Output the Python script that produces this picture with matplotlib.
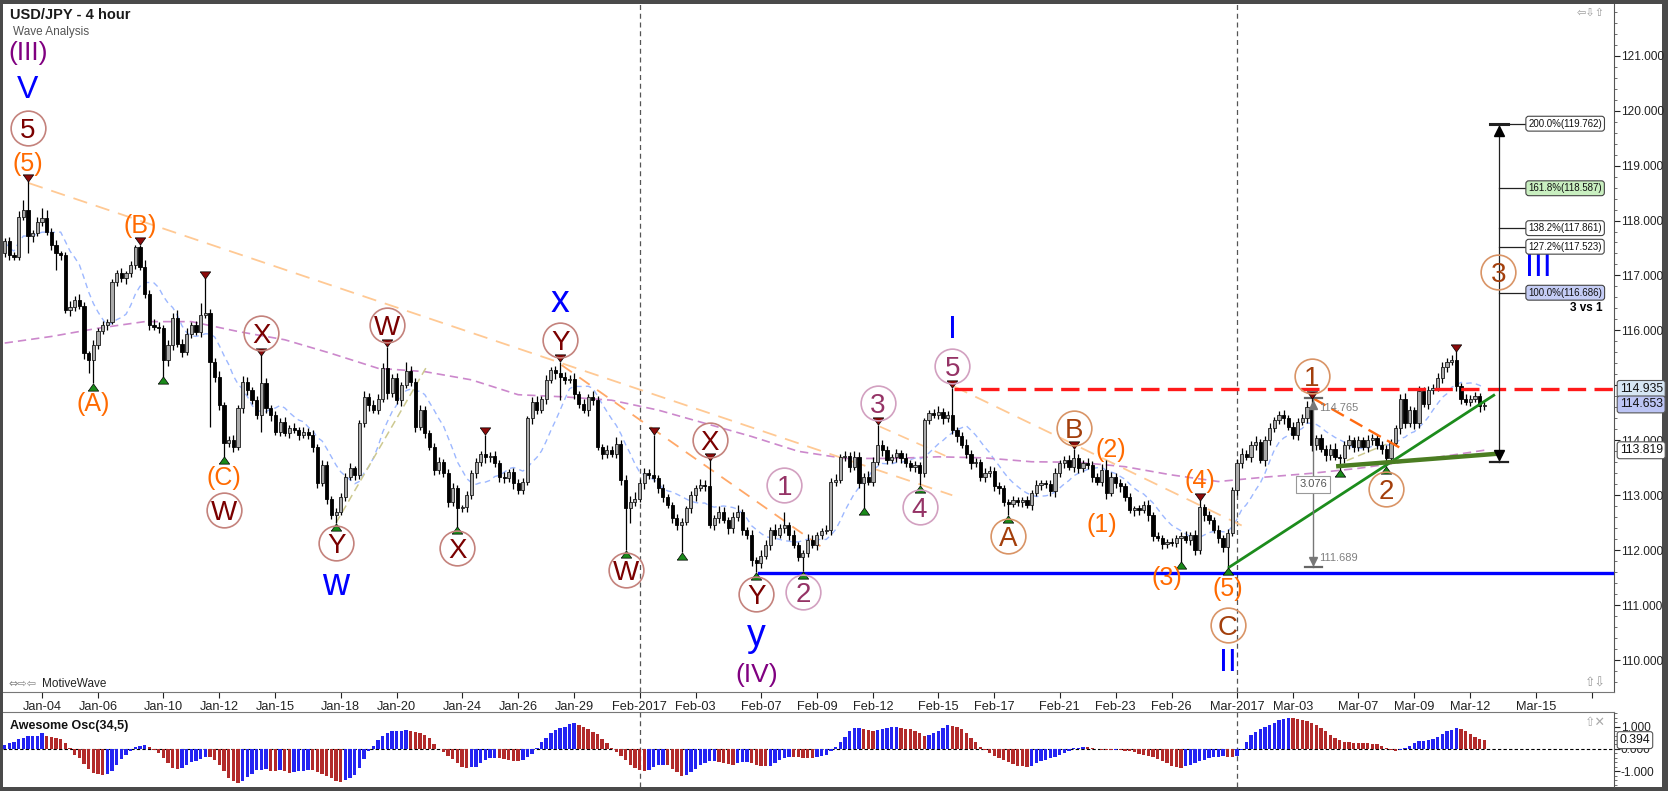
import matplotlib
matplotlib.use("Agg")
import matplotlib.pyplot as plt
import matplotlib.transforms as mtransforms
from matplotlib.path import Path
from matplotlib.patches import Rectangle
import numpy as np
import pandas as pd

plt.rcParams['font.family'] = ['Liberation Sans', 'DejaVu Sans']

# ---- USD/JPY 4h candles (index 0 = Jan 2 late session) ----
first_open = 117.40
closes = [
    117.62, 117.37, 117.34, 118.07, 118.19, 117.71, 117.77, 117.98, 118.04, 117.80,
    117.56, 117.40, 117.37, 116.37, 116.43, 116.55, 116.45, 115.58, 115.46, 115.74,
    115.99, 116.10, 116.16, 116.89, 117.04, 116.95, 117.04, 117.19, 117.52, 117.16,
    116.67, 116.10, 116.07, 116.04, 115.46, 115.73, 116.22, 115.76, 115.61, 115.94,
    116.10, 115.98, 116.28, 116.31, 115.43, 115.16, 114.64, 113.95, 114.00, 113.88,
    114.58, 115.07, 114.92, 114.73, 114.46, 115.04, 114.58, 114.46, 114.16, 114.34,
    114.13, 114.22, 114.19, 114.10, 114.16, 114.10, 113.88, 113.22, 113.55, 112.94,
    112.64, 112.70, 112.97, 113.34, 113.49, 113.37, 114.31, 114.79, 114.64, 114.55,
    114.76, 115.31, 114.86, 115.13, 114.73, 115.01, 115.27, 115.07, 114.25, 114.55,
    114.13, 113.88, 113.46, 113.60, 113.40, 112.88, 113.13, 112.76, 112.78, 113.00,
    113.40, 113.60, 113.76, 113.69, 113.72, 113.58, 113.34, 113.31, 113.43, 113.22,
    113.10, 113.25, 114.40, 114.70, 114.55, 114.75, 115.10, 115.28, 115.22, 115.16,
    115.10, 115.12, 114.85, 114.67, 114.55, 114.79, 114.73, 113.88, 113.76, 113.82,
    113.76, 113.94, 113.28, 112.76, 112.88, 112.94, 113.22, 113.40, 113.37, 113.31,
    113.13, 112.97, 112.82, 112.58, 112.46, 112.52, 112.76, 113.00, 113.13, 113.19,
    113.16, 112.46, 112.58, 112.70, 112.55, 112.40, 112.60, 112.70, 112.37, 112.28,
    111.82, 111.76, 111.90, 112.10, 112.37, 112.28, 112.40, 112.46, 112.28, 112.10,
    111.88, 111.95, 112.19, 112.10, 112.28, 112.35, 112.37, 113.25, 113.28, 113.70,
    113.72, 113.52, 113.70, 113.22, 113.34, 113.25, 113.61, 113.91, 113.82, 113.64,
    113.70, 113.77, 113.67, 113.58, 113.52, 113.55, 113.40, 114.37, 114.49, 114.46,
    114.52, 114.40, 114.46, 114.19, 114.07, 113.92, 113.76, 113.58, 113.60, 113.34,
    113.40, 113.45, 113.16, 113.13, 112.88, 112.85, 112.91, 112.88, 112.91, 112.82,
    113.04, 113.19, 113.22, 113.20, 113.07, 113.40, 113.58, 113.64, 113.52, 113.67,
    113.49, 113.58, 113.55, 113.34, 113.25, 113.46, 113.04, 113.34, 113.22, 113.16,
    112.97, 112.73, 112.76, 112.73, 112.82, 112.64, 112.25, 112.22, 112.12, 112.15,
    112.13, 112.22, 112.25, 112.19, 112.28, 112.00, 112.79, 112.64, 112.55, 112.37,
    112.22, 112.06, 112.31, 113.10, 113.58, 113.76, 113.70, 113.91, 113.97, 113.64,
    114.00, 114.22, 114.37, 114.46, 114.40, 114.25, 114.10, 114.34, 114.40, 114.61,
    113.91, 114.04, 113.85, 113.73, 113.85, 113.70, 113.67, 113.91, 114.00, 113.88,
    114.00, 113.88, 114.00, 114.04, 113.91, 113.85, 113.67, 113.95, 114.22, 114.76,
    114.31, 114.55, 114.31, 114.89, 114.67, 114.92, 114.95, 115.13, 115.34, 115.43,
    115.47, 114.98, 114.76, 114.70, 114.76, 114.80, 114.62, 114.65,
]
# wick lengths above / below the body, in hundredths of a yen
wick_up = [
    6, 8, 5, 10, 18, 52, 6, 8, 18, 15,
    6, 8, 5, 6, 10, 8, 12, 6, 5, 8,
    6, 8, 5, 4, 6, 10, 5, 8, 3, 4,
    12, 6, 10, 8, 6, 9, 10, 15, 8, 10,
    6, 8, 21, 64, 8, 6, 10, 6, 8, 10,
    6, 10, 8, 5, 8, 51, 10, 6, 8, 6,
    8, 6, 10, 5, 8, 6, 8, 6, 10, 8,
    5, 6, 8, 6, 10, 5, 6, 10, 8, 10,
    8, 10, 39, 8, 10, 6, 16, 8, 6, 10,
    8, 6, 8, 10, 6, 8, 10, 6, 5, 8,
    6, 8, 5, 34, 6, 8, 6, 8, 5, 6,
    8, 6, 4, 8, 10, 6, 8, 5, 8, 21,
    8, 6, 10, 5, 8, 6, 10, 8, 6, 10,
    8, 12, 6, 8, 10, 12, 8, 10, 8, 73,
    6, 8, 5, 6, 8, 6, 5, 8, 6, 10,
    8, 48, 6, 10, 8, 6, 10, 12, 5, 6,
    8, 6, 10, 8, 6, 10, 8, 24, 6, 8,
    5, 6, 10, 8, 6, 5, 8, 6, 10, 6,
    8, 6, 10, 8, 6, 10, 8, 37, 10, 8,
    6, 8, 5, 10, 6, 8, 6, 4, 6, 8,
    10, 6, 8, 50, 6, 8, 10, 6, 8, 6,
    10, 8, 6, 8, 5, 6, 8, 6, 5, 8,
    6, 8, 5, 6, 8, 10, 6, 8, 10, 18,
    8, 6, 10, 8, 6, 10, 19, 8, 6, 8,
    6, 8, 5, 6, 8, 10, 6, 8, 5, 6,
    8, 6, 8, 10, 6, 8, 12, 6, 8, 6,
    8, 6, 8, 5, 8, 10, 6, 8, 10, 6,
    8, 10, 6, 8, 10, 6, 8, 6, 8, 10,
    16, 6, 8, 6, 8, 10, 6, 8, 10, 6,
    8, 6, 10, 8, 6, 8, 6, 8, 6, 8,
    10, 8, 6, 10, 8, 6, 8, 10, 8, 6,
    8, 15, 6, 8, 6, 8, 6, 5,
]
wick_dn = [
    6, 8, 6, 5, 6, 31, 10, 6, 8, 6,
    10, 30, 8, 6, 10, 8, 6, 10, 24, 42,
    8, 6, 10, 5, 8, 6, 10, 6, 8, 6,
    8, 9, 6, 8, 30, 10, 8, 6, 10, 6,
    8, 6, 10, 6, 118, 10, 8, 25, 8, 10,
    6, 8, 10, 6, 8, 30, 8, 10, 6, 8,
    6, 8, 6, 10, 6, 8, 10, 8, 6, 10,
    8, 15, 6, 8, 6, 10, 8, 6, 10, 6,
    8, 6, 10, 8, 6, 10, 6, 8, 10, 6,
    8, 6, 10, 8, 6, 10, 8, 33, 6, 8,
    6, 8, 6, 10, 8, 6, 10, 8, 6, 10,
    7, 8, 6, 10, 8, 6, 8, 6, 10, 43,
    8, 6, 10, 8, 6, 10, 8, 6, 10, 8,
    6, 8, 10, 76, 27, 8, 6, 10, 8, 6,
    8, 10, 6, 8, 10, 50, 6, 8, 10, 6,
    8, 6, 10, 8, 6, 10, 8, 6, 10, 8,
    10, 16, 8, 6, 10, 8, 6, 8, 10, 6,
    8, 26, 8, 6, 10, 8, 6, 10, 8, 6,
    8, 10, 6, 8, 45, 6, 8, 6, 10, 8,
    6, 10, 8, 6, 8, 10, 22, 6, 8, 6,
    8, 10, 6, 8, 10, 6, 8, 10, 6, 8,
    10, 6, 8, 10, 8, 21, 6, 8, 10, 6,
    8, 6, 10, 6, 8, 10, 6, 8, 6, 10,
    8, 6, 8, 10, 6, 8, 10, 6, 8, 10,
    8, 6, 10, 8, 6, 10, 8, 6, 10, 8,
    6, 8, 43, 6, 10, 8, 6, 10, 8, 6,
    8, 10, 37, 6, 10, 8, 6, 10, 8, 6,
    10, 8, 6, 8, 10, 6, 8, 10, 6, 8,
    10, 8, 6, 10, 8, 6, 21, 8, 6, 10,
    8, 6, 10, 8, 6, 10, 14, 8, 6, 10,
    8, 6, 10, 8, 6, 10, 8, 6, 8, 10,
    6, 8, 10, 6, 8, 6, 10, 6,
]
# Awesome Oscillator (34,5) histogram
ao = [
    0.18, 0.28, 0.32, 0.43, 0.51, 0.57, 0.59, 0.60, 0.69, 0.57,
    0.54, 0.51, 0.44, 0.25, 0.03, -0.26, -0.41, -0.68, -0.90, -1.07,
    -1.12, -1.15, -1.13, -1.00, -0.72, -0.47, -0.28, -0.10, 0.08, 0.14,
    0.16, 0.10, -0.05, -0.20, -0.40, -0.65, -0.85, -0.90, -0.85, -0.72,
    -0.60, -0.55, -0.45, -0.35, -0.38, -0.50, -0.70, -1.00, -1.30, -1.45,
    -1.50, -1.42, -1.25, -1.10, -0.95, -0.92, -0.90, -0.97, -0.98, -0.95,
    -1.00, -1.08, -1.05, -1.00, -0.98, -0.95, -0.96, -1.02, -1.10, -1.20,
    -1.32, -1.45, -1.48, -1.40, -1.30, -1.15, -0.85, -0.45, -0.07, 0.15,
    0.40, 0.60, 0.72, 0.78, 0.80, 0.82, 0.83, 0.78, 0.75, 0.70,
    0.62, 0.50, 0.22, 0.00, -0.15, -0.30, -0.45, -0.65, -0.80, -0.85,
    -0.82, -0.80, -0.65, -0.50, -0.42, -0.40, -0.41, -0.45, -0.50, -0.52,
    -0.55, -0.50, -0.38, -0.22, 0.05, 0.30, 0.50, 0.70, 0.85, 0.95,
    1.00, 1.12, 1.18, 1.05, 1.00, 0.88, 0.75, 0.65, 0.45, 0.25,
    0.05, -0.12, -0.30, -0.50, -0.70, -0.85, -0.95, -1.00, -0.92, -0.82,
    -0.72, -0.70, -0.72, -0.90, -1.05, -1.20, -1.18, -1.05, -0.90, -0.72,
    -0.62, -0.55, -0.54, -0.60, -0.62, -0.68, -0.72, -0.65, -0.60, -0.58,
    -0.62, -0.70, -0.75, -0.78, -0.75, -0.62, -0.50, -0.40, -0.35, -0.37,
    -0.38, -0.39, -0.40, -0.42, -0.38, -0.32, -0.25, -0.10, 0.10, 0.30,
    0.55, 0.78, 0.92, 0.95, 0.90, 0.85, 0.82, 0.85, 0.88, 0.92,
    0.98, 1.00, 0.95, 0.90, 0.88, 0.82, 0.72, 0.60, 0.62, 0.70,
    0.82, 0.95, 1.05, 1.03, 0.98, 0.88, 0.72, 0.50, 0.30, 0.10,
    -0.05, -0.20, -0.32, -0.42, -0.50, -0.58, -0.68, -0.75, -0.78, -0.80,
    -0.75, -0.65, -0.55, -0.50, -0.42, -0.35, -0.28, -0.20, -0.08, 0.03,
    0.06, 0.08, 0.07, 0.05, 0.00, -0.04, -0.05, -0.06, -0.05, -0.06,
    -0.08, -0.10, -0.15, -0.22, -0.28, -0.32, -0.38, -0.45, -0.52, -0.65,
    -0.78, -0.82, -0.83, -0.78, -0.70, -0.62, -0.55, -0.48, -0.42, -0.38,
    -0.35, -0.30, -0.35, -0.38, -0.30, -0.05, 0.30, 0.62, 0.75, 0.88,
    1.00, 1.08, 1.15, 1.28, 1.35, 1.40, 1.38, 1.35, 1.30, 1.25,
    1.18, 1.08, 0.95, 0.82, 0.62, 0.50, 0.38, 0.32, 0.29, 0.28,
    0.27, 0.26, 0.25, 0.23, 0.20, 0.12, 0.02, -0.05, -0.08, -0.03,
    0.05, 0.15, 0.25, 0.35, 0.37, 0.40, 0.45, 0.55, 0.68, 0.78,
    0.85, 0.95, 0.90, 0.78, 0.68, 0.55, 0.45, 0.394,
]
# slow moving average (purple dashed), read every 10 candles
slow_ma_at = list(range(0, 311, 10)) + [317]
slow_ma = [115.77, 115.89, 116.04, 116.16, 116.16, 115.98, 115.83, 115.58, 115.31, 115.25,
           115.10, 114.83, 114.79, 114.73, 114.55, 114.31, 114.07, 113.80, 113.67, 113.67,
           113.70, 113.68, 113.61, 113.60, 113.52, 113.37, 113.25, 113.33, 113.40, 113.49,
           113.61, 113.73, 113.82]

date_ticks = [8, 20, 34, 46, 58, 72, 84, 98, 110, 122, 136, 148, 162, 174, 186,
              200, 212, 226, 238, 250, 264, 276, 290, 302, 314, 328, 340]
date_labels = ['Jan-04', 'Jan-06', 'Jan-10', 'Jan-12', 'Jan-15', 'Jan-18', 'Jan-20',
               'Jan-24', 'Jan-26', 'Jan-29', 'Feb-2017', 'Feb-03', 'Feb-07', 'Feb-09',
               'Feb-12', 'Feb-15', 'Feb-17', 'Feb-21', 'Feb-23', 'Feb-26', 'Mar-2017',
               'Mar-03', 'Mar-07', 'Mar-09', 'Mar-12', 'Mar-15', '']
month_starts = [136, 264]
price_ticks = [110, 111, 112, 113, 114, 115, 116, 117, 118, 119, 120, 121]
price_tick_labels = ['110.000', '111.000', '112.000', '113.000', '114.000', '',
                     '116.000', '117.000', '118.000', '119.000', '120.000', '121.000']

peak_marks = [5, 29, 43, 55, 82, 103, 119, 139, 151, 187, 203, 229, 256, 280, 311]
trough_marks = [19, 34, 47, 71, 97, 133, 145, 161, 171, 184, 196, 215, 252, 262, 286, 296]

# (candle, side, text, style, distance from extreme in px, x shift px)
wave_labels = [
    (5, 'hi', '(5)', 'orange', 17, 0), (5, 'hi', '5', 'maroon', 53, 0),
    (5, 'hi', 'V', 'blue', 91, 0), (5, 'hi', '(III)', 'purple', 128, 0),
    (29, 'hi', '(B)', 'orange', 19, 0),
    (55, 'hi', 'X', 'maroon', 22, 0),
    (82, 'hi', 'W', 'maroon', 22, 0),
    (119, 'hi', 'Y', 'maroon', 22, 0), (119, 'hi', 'x', 'bluelc', 60, 0),
    (151, 'hi', 'X', 'maroon', 20, 0),
    (167, 'hi', '1', 'plum', 27, 0),
    (187, 'hi', '3', 'plum', 22, 0),
    (203, 'hi', '5', 'plum', 22, 0), (203, 'hi', 'I', 'blue', 58, 0),
    (229, 'hi', 'B', 'brown', 21, 0),
    (237, 'hi', '(2)', 'orange', 22, 0),
    (256, 'hi', '(4)', 'orange', 19, 0),
    (280, 'hi', '1', 'brown', 22, 0),
    (19, 'lo', '(A)', 'orange', 21, 0),
    (47, 'lo', '(C)', 'orange', 21, 0), (47, 'lo', 'W', 'maroon', 53, 0),
    (71, 'lo', 'Y', 'maroon', 20, 0), (71, 'lo', 'w', 'bluelc', 62, 0),
    (97, 'lo', 'X', 'maroon', 21, 0),
    (133, 'lo', 'W', 'maroon', 20, 0),
    (161, 'lo', 'Y', 'maroon', 22, 0), (161, 'lo', 'y', 'bluelc', 64, 0),
    (161, 'lo', '(IV)', 'purple', 103, 0),
    (171, 'lo', '2', 'plum', 21, 0),
    (196, 'lo', '4', 'plum', 22, 0),
    (215, 'lo', 'A', 'brown', 21, 0),
    (235, 'lo', '(1)', 'orange', 39, 0),
    (252, 'lo', '(3)', 'orange', 16, -14),
    (262, 'lo', '(5)', 'orange', 22, 0), (262, 'lo', 'C', 'brown', 58, 0),
    (262, 'lo', 'II', 'blue', 96, 0),
    (296, 'lo', '2', 'brown', 23, 0),
]

resist_level = 114.935
support_level = 111.59
last_price = 114.653
ma_tag = 113.819
leg_top, leg_bottom = 114.765, 111.689
fib_base = 113.61
fib_pcts = ['100.0%', '127.2%', '138.2%', '161.8%', '200.0%']
fib_prices = [116.686, 117.523, 117.861, 118.587, 119.762]

# ---------------------------------------------------------------------------
n = len(closes)
x = np.arange(n)
c = np.array(closes)
o = np.r_[first_open, c[:-1]]
hi = np.maximum(o, c) + np.array(wick_up) / 100
lo = np.minimum(o, c) - np.array(wick_dn) / 100
fast_ma = pd.Series(c).rolling(10, min_periods=1).mean()

W, H = 1668, 791
fig = plt.figure(figsize=(W / 100, H / 100), dpi=100)
fig.patch.set_facecolor('#4a4a4a')
fig.patches.append(Rectangle((3 / W, 4 / H), 1659 / W, 783 / H, transform=fig.transFigure,
                             facecolor='white', edgecolor='none', zorder=-10))


def frac(x0, y0, x1, y1):
    return [x0 / W, 1 - y1 / H, (x1 - x0) / W, (y1 - y0) / H]


ax = fig.add_axes(frac(3, 4, 1614, 692))
ax2 = fig.add_axes(frac(3, 712, 1614, 787))
xmin, xmax = -0.36, 344.76
for a in (ax, ax2):
    a.set_xlim(xmin, xmax)
    a.set_facecolor('white')
    a.spines['left'].set_visible(False)
    a.spines['right'].set_color('#555555')
ax.set_ylim(109.42, 121.94)
ax2.set_ylim(-1.70, 1.65)
ax.spines['top'].set_visible(False)
ax.spines['bottom'].set_color('#777777')
ax2.spines['bottom'].set_visible(False)
ax2.spines['top'].set_color('#777777')

# axes / ticks
ax.yaxis.tick_right()
ax.set_yticks(price_ticks)
ax.set_yticklabels(price_tick_labels)
ax.set_yticks(np.arange(109.6, 121.9, 0.2), minor=True)
ax.tick_params(axis='y', which='major', length=4, pad=1, labelsize=8.6, colors='#222222')
ax.tick_params(axis='y', which='minor', length=2, color='#555555')
ax.set_xticks(date_ticks)
ax.set_xticklabels(date_labels)
ax.tick_params(axis='x', length=4, pad=2.5, labelsize=9.2, colors='#222222')

ax2.yaxis.tick_right()
ax2.set_yticks([-1, 0, 1])
ax2.set_yticklabels(['-1.000', '0.000', '1.000'])
ax2.set_yticks(np.arange(-1.6, 1.61, 0.2), minor=True)
ax2.tick_params(axis='y', which='major', length=4, pad=1, labelsize=8.6, colors='#222222')
ax2.tick_params(axis='y', which='minor', length=2, color='#555555')
ax2.tick_params(axis='x', bottom=False, labelbottom=False)

# month separators
for m in month_starts:
    for a in (ax, ax2):
        a.axvline(m, color='#555555', lw=0.9, dashes=(4, 3), zorder=1)

# moving averages
ax.plot(x, fast_ma, color='#9db8ff', lw=1.0, dashes=(4, 3), zorder=2)
ax.plot(slow_ma_at, slow_ma, color='#cc88cc', lw=1.2, dashes=(5, 3), zorder=2)

# trend / channel lines
ax.plot([5.2, 203], [118.68, 113.0], color='#ffc994', lw=1.3, dashes=(8, 5), zorder=2)
ax.plot([203.4, 265], [114.98, 112.45], color='#ffc994', lw=1.3, dashes=(8, 5), zorder=2)
ax.plot([119.3, 176], [115.37, 112.0], color='#ffa868', lw=1.3, dashes=(7, 5), zorder=2)
ax.plot([187.5, 202], [114.25, 113.7], color='#ffc994', lw=1.2, dashes=(7, 5), zorder=2)
ax.plot([71, 90.4], [112.5, 115.34], color='#cdc990', lw=1.1, dashes=(5, 3), zorder=2)
ax.plot([287.5, 296], [113.63, 113.93], color='#cdc990', lw=1.1, dashes=(5, 3), zorder=2)

ax.plot([161.5, xmax], [support_level] * 2, color='#0000ff', lw=2.4, zorder=5)
ax.plot([203.4, xmax], [resist_level] * 2, color='#ff1a1a', lw=2.4, dashes=(5.5, 2.5), zorder=5)
ax.plot([262.3, 319], [111.69, 114.82], color='#1c8c1c', lw=2.0, zorder=5)
ax.plot([285.7, 320.4], [113.53, 113.76], color='#4b7d22', lw=3.2, zorder=5)
ax.plot([280.3, 299], [114.765, 113.86], color='#ff6a10', lw=1.7, dashes=(6, 3), zorder=5)

# candles
up = c >= o
ax.vlines(x, lo, hi, color='black', lw=0.9, zorder=3)
body = np.where(np.abs(c - o) < 0.015, 0.015, c - o)
ax.bar(x[up], body[up], bottom=o[up], width=0.68, color='#a9a9a9', edgecolor='#1a1a1a', lw=0.6, zorder=4)
ax.bar(x[~up], body[~up], bottom=o[~up], width=0.68, color='black', edgecolor='black', lw=0.6, zorder=4)


def off(dx, dy):
    return mtransforms.offset_copy(ax.transData, fig=fig, x=dx, y=dy, units='dots')


tri = Path([(-1, 0.7), (1, 0.7), (0, -0.7), (-1, 0.7)])
tri_up = Path([(-1, -0.7), (1, -0.7), (0, 0.7), (-1, -0.7)])
for i in peak_marks:
    ax.plot(i, hi[i], marker=tri, ms=7.5, mfc='#8b0a0a', mec='black', mew=0.5,
            transform=off(0, 3.5), zorder=7)
for i in trough_marks:
    ax.plot(i, lo[i], marker=tri_up, ms=7.5, mfc='#1a8a1a', mec='black', mew=0.5,
            transform=off(0, -3.5), zorder=7)

circled = {'maroon': ('#7a0000', '#c4827c'), 'plum': ('#953366', '#d2a0c0'),
           'brown': ('#a33f0c', '#d99466')}
plain = {'orange': ('#ff6a00', 18), 'blue': ('#0000ff', 23), 'bluelc': ('#0000ff', 27),
         'purple': ('#800080', 19)}

for i, side, txt, sty, dist, dx in wave_labels:
    y0 = hi[i] if side == 'hi' else lo[i]
    dy = dist if side == 'hi' else -dist
    tr = off(dx, dy)
    if sty in circled:
        tc, rc = circled[sty]
        ax.plot(i, y0, marker='o', ms=25, mfc='none', mec=rc, mew=1.2, transform=tr, zorder=8)
        ax.text(i, y0, txt, transform=tr, ha='center', va='center_baseline', fontsize=20,
                color=tc, zorder=9)
    else:
        tc, fs = plain[sty]
        ax.text(i, y0, txt, transform=tr, ha='center', va='center', fontsize=fs,
                color=tc, zorder=9)

# projected wave 3 of III
ax.plot(320, 117.06, marker='o', ms=25, mfc='none', mec='#d99466', mew=1.2, zorder=8)
ax.text(320, 117.06, '3', ha='center', va='center_baseline', fontsize=20, color='#a33f0c', zorder=9)
ax.text(328.5, 117.14, 'III', ha='center', va='center', fontsize=23, color='#0000ff', zorder=9)

# wave-1 length measurement
mx = 280.3
ax.plot([mx, mx], [leg_bottom, leg_top], color='#777777', lw=1.0, zorder=6)
ax.plot([278.5, 282.2], [leg_top] * 2, color='#666666', lw=1.6, zorder=6)
ax.plot([278.5, 282.2], [leg_bottom] * 2, color='#666666', lw=1.6, zorder=6)
ax.plot(mx, leg_top - 0.12, marker='^', ms=6, color='#777777', zorder=6)
ax.plot(mx, leg_bottom + 0.12, marker='v', ms=6, color='#777777', zorder=6)
ax.text(281.6, leg_top - 0.17, '%.3f' % leg_top, fontsize=8, color='#808080', va='center', zorder=9)
ax.text(281.6, leg_bottom + 0.17, '%.3f' % leg_bottom, fontsize=8, color='#808080', va='center', zorder=9)
ax.text(mx, 113.20, '%.3f' % (leg_top - leg_bottom), fontsize=8, color='#555555', ha='center',
        va='center', zorder=9,
        bbox=dict(boxstyle='square,pad=0.3', fc='white', ec='#999999', lw=0.8))

# Fibonacci extension of wave 1 from wave 2
fx = 320.1
ax.plot([fx, fx], [fib_base, fib_prices[-1]], color='#222222', lw=0.9, zorder=6)
ax.plot(fx, fib_prices[-1] - 0.13, marker='^', ms=7, color='black', zorder=6)
ax.plot(fx, fib_base + 0.13, marker='v', ms=7, color='black', zorder=6)
ax.plot([318.2, 322.0], [fib_prices[-1]] * 2, color='#222222', lw=2.2, zorder=6)
ax.plot([318.2, 322.0], [fib_base] * 2, color='#222222', lw=1.6, zorder=6)
fib_fc = {'161.8%': '#c9efc0', '100.0%': '#c5cdf6'}
for pct, pr in zip(fib_pcts, fib_prices):
    ax.plot([fx, 326.1], [pr, pr], color='#222222', lw=0.9, zorder=6)
    ax.text(326.4, pr, '%s(%.3f)' % (pct, pr), fontsize=7, color='#111111', va='center', zorder=9,
            bbox=dict(boxstyle='round,pad=0.25,rounding_size=0.3', fc=fib_fc.get(pct, 'white'),
                      ec='#444444', lw=0.8))
ax.text(342.4, 116.41, '3 vs 1', fontsize=8.5, fontweight='bold', ha='right', va='center', zorder=9)

# price tags on the axis
tag_tr = mtransforms.blended_transform_factory(ax.transAxes, ax.transData)
for val, fc in ((resist_level, '#d6e6f4'), (last_price, '#bcc4f4'), (ma_tag, 'white')):
    ax.text(1.0035, val, '%.3f' % val, transform=tag_tr, fontsize=8.8, va='center', ha='left',
            color='#111111', zorder=10, clip_on=False,
            bbox=dict(boxstyle='round,pad=0.2,rounding_size=0.2', fc=fc, ec='#555555', lw=0.8))

# oscillator
ao_arr = np.array(ao)
rising = np.r_[True, ao_arr[1:] > ao_arr[:-1]]
cols = np.where(rising, '#2323f2', '#b22a2a')
ax2.bar(x, ao_arr, width=0.72, color=cols, lw=0, zorder=3)
ax2.axhline(0, color='black', lw=0.8, dashes=(3, 2), zorder=2)
tag2 = mtransforms.blended_transform_factory(ax2.transAxes, ax2.transData)
ax2.text(1.0035, ao_arr[-1], '%.3f' % ao_arr[-1], transform=tag2, fontsize=8.8, va='center',
         ha='left', color='#111111', zorder=10, clip_on=False,
         bbox=dict(boxstyle='round,pad=0.2,rounding_size=0.2', fc='white', ec='#555555', lw=0.8))

# header / footer texts
fig.text(10 / W, 1 - 15 / H, 'USD/JPY - 4 hour', fontsize=10.5, fontweight='bold',
         color='#1a1a1a', va='center')
fig.text(13 / W, 1 - 32 / H, 'Wave Analysis', fontsize=8.5, color='#555555', va='center')
fig.text(8 / W, 1 - 684 / H, '⇔⇨⇦', fontsize=8, color='#888888', va='center',
         family='DejaVu Sans')
fig.text(42 / W, 1 - 684 / H, 'MotiveWave', fontsize=8.5, color='#222222', va='center')
fig.text(10 / W, 1 - 726 / H, 'Awesome Osc(34,5)', fontsize=9, fontweight='bold',
         color='#111111', va='center')
fig.text(1577 / W, 1 - 13 / H, '⇦⇩⇧', fontsize=8, color='#999999', va='center',
         family='DejaVu Sans')
fig.text(1585 / W, 1 - 683 / H, '⇧⇩', fontsize=9, color='#999999', va='center',
         family='DejaVu Sans')
fig.text(1585 / W, 1 - 722 / H, '⇧✕', fontsize=9, color='#aaaaaa', va='center',
         family='DejaVu Sans')

fig.savefig('out.png', dpi=100, facecolor=fig.get_facecolor())
